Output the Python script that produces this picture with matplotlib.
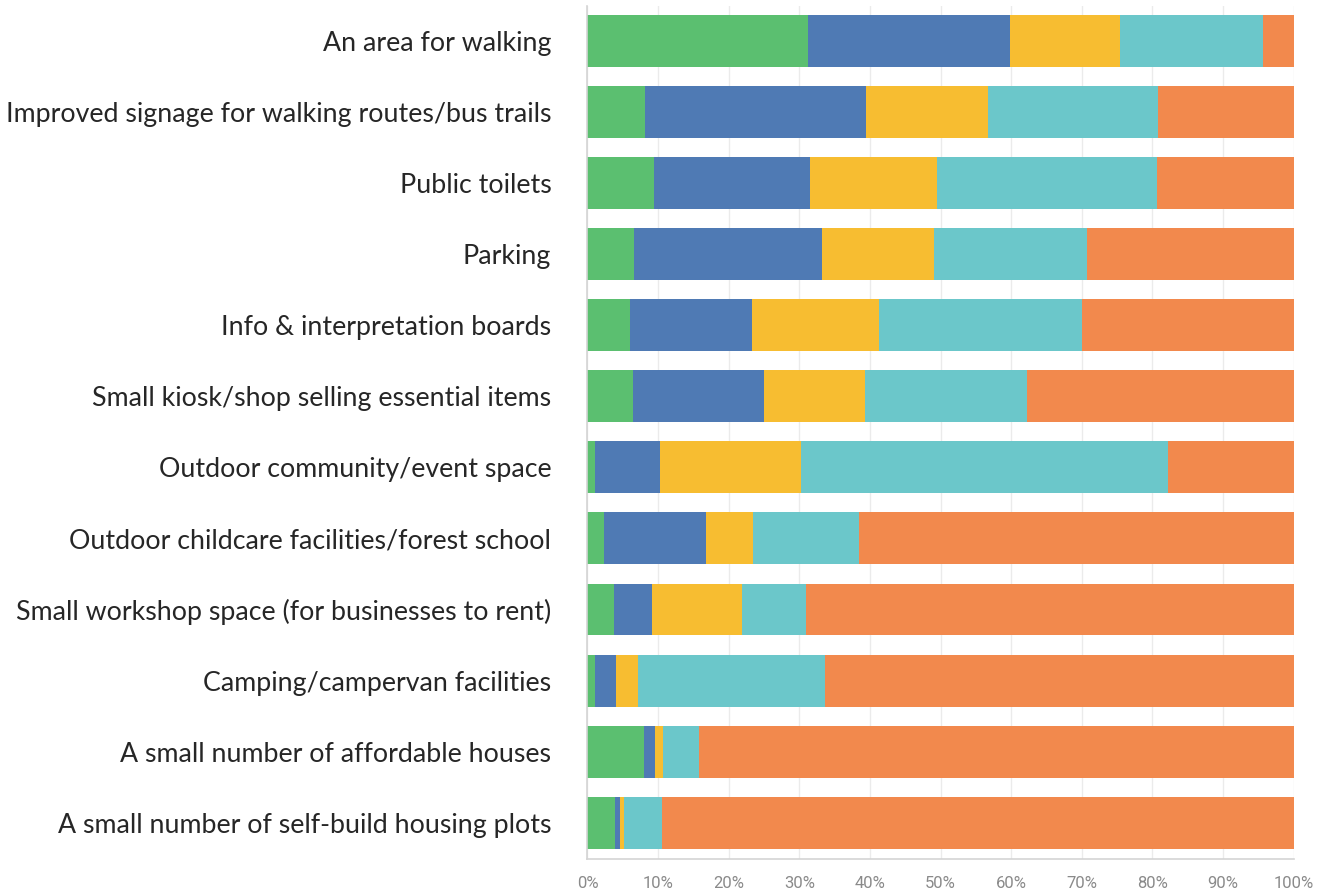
import matplotlib
matplotlib.use("Agg")
import matplotlib.pyplot as plt
import numpy as np

categories = [
    "An area for walking",
    "Improved signage for walking routes/bus trails",
    "Public toilets",
    "Parking",
    "Info & interpretation boards",
    "Small kiosk/shop selling essential items",
    "Outdoor community/event space",
    "Outdoor childcare facilities/forest school",
    "Small workshop space (for businesses to rent)",
    "Camping/campervan facilities",
    "A small number of affordable houses",
    "A small number of self-build housing plots",
]

# share of responses per answer, percent
green = [31.2, 8.2, 9.4, 6.6, 6.0, 6.4, 1.1, 2.3, 3.8, 1.1, 8.0, 3.9]
blue = [28.7, 31.3, 22.1, 26.6, 17.3, 18.6, 9.2, 14.5, 5.4, 3.0, 1.5, 0.7]
yellow = [15.5, 17.2, 18.0, 15.9, 18.0, 14.3, 20.0, 6.7, 12.7, 3.1, 1.2, 0.6]
teal = [20.3, 24.1, 31.1, 21.7, 28.7, 22.9, 51.9, 14.9, 9.0, 26.4, 5.1, 5.3]
orange = [4.3, 19.2, 19.4, 29.2, 30.0, 37.8, 17.8, 61.6, 69.1, 66.4, 84.2, 89.5]

series = [green, blue, yellow, teal, orange]
colors = ["#5BBF70", "#4F7AB4", "#F7BD31", "#6BC7CA", "#F2894D"]

fig = plt.figure(figsize=(13.24, 8.91), dpi=100)
ax = fig.add_axes([0.4437, 0.0359, 0.5334, 0.9574])

y = np.arange(len(categories))
left = np.zeros(len(categories))
for vals, col in zip(series, colors):
    vals = np.array(vals)
    ax.barh(y, vals, left=left, height=0.73, color=col, edgecolor="none", zorder=2)
    left += vals

ax.set_xlim(0, 100)
ax.set_ylim(11.51, -0.49)
ax.set_xticks(np.arange(0, 101, 10))
ax.set_xticklabels(["{}%".format(t) for t in range(0, 101, 10)])
ax.set_yticks(y)
ax.set_yticklabels(categories)

ax.grid(axis="x", color="#ebebeb", linewidth=1, zorder=0)
for side in ["top", "right"]:
    ax.spines[side].set_visible(False)
for side in ["left", "bottom"]:
    ax.spines[side].set_color("#d4d4d4")
    ax.spines[side].set_linewidth(1.2)

ax.tick_params(axis="y", length=0, pad=26)
ax.tick_params(axis="x", length=0, pad=12, labelsize=12, labelcolor="#8a8a8a")
for lbl in ax.get_yticklabels():
    lbl.set_fontfamily("Lato")
    lbl.set_fontsize(19.3)
    lbl.set_color("#262626")
for lbl in ax.get_xticklabels():
    lbl.set_fontfamily("Roboto")

fig.savefig("out.png", dpi=100)
